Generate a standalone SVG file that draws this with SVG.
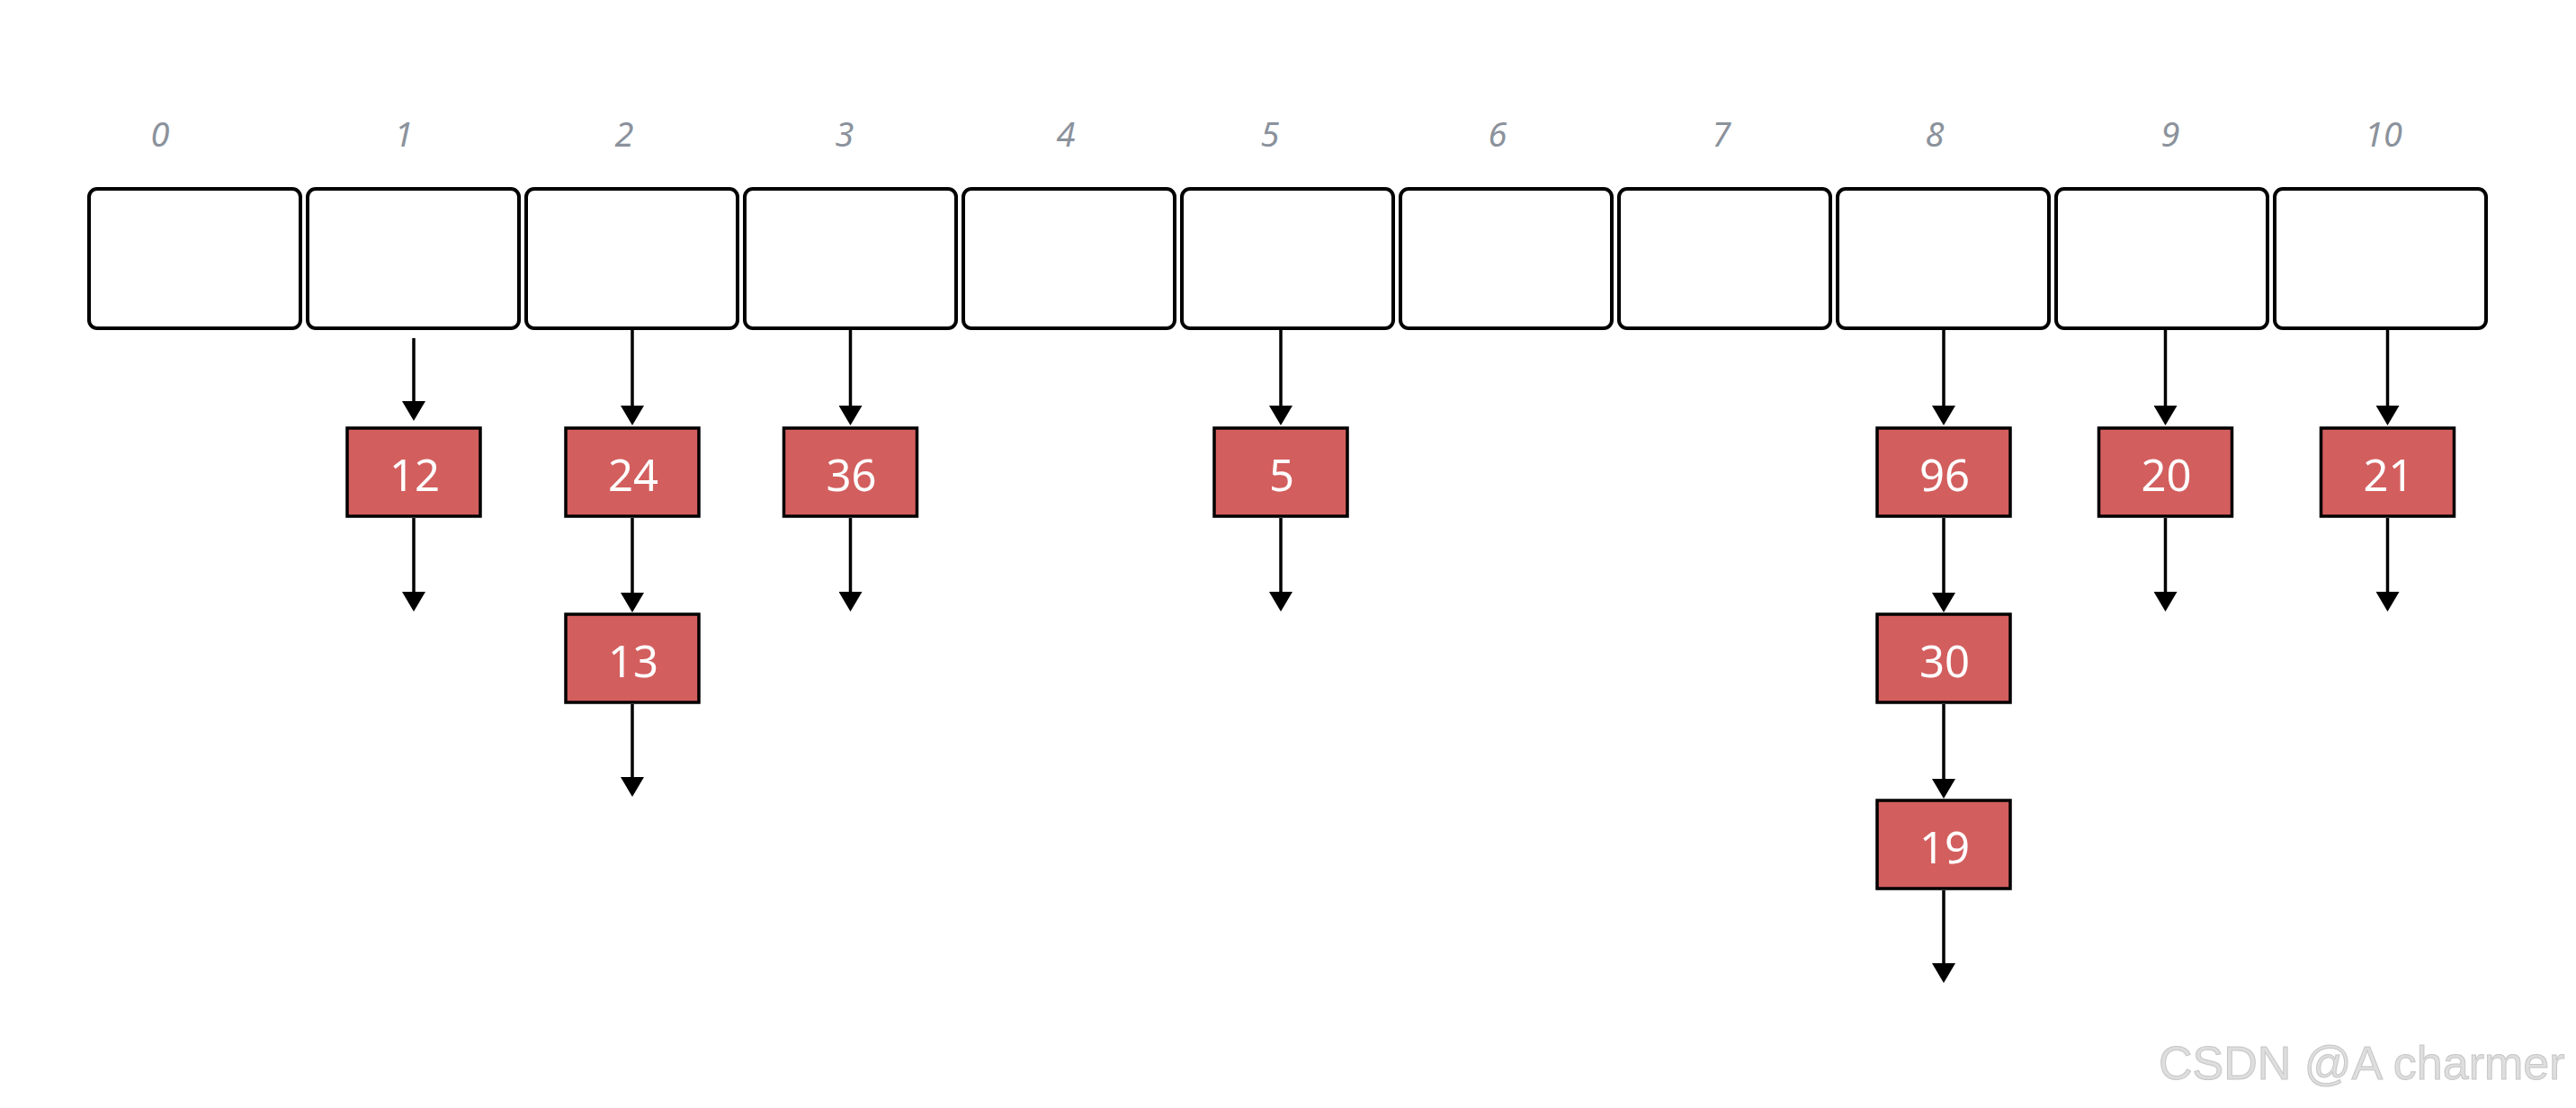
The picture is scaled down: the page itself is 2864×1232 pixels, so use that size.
<svg xmlns="http://www.w3.org/2000/svg" width="2864" height="1232" viewBox="0 0 2864 1232">
  <defs>
    <marker id="ah" viewBox="0 0 22 26" refX="2" refY="13" markerWidth="22" markerHeight="26" markerUnits="userSpaceOnUse" orient="auto">
      <path d="M0,0 L22,13 L0,26 z" fill="#000"/>
    </marker>
    <style>
      .slot { fill: #fff; stroke: #000; stroke-width: 4; }
      .idx { font-family: "Noto Sans", "DejaVu Sans", sans-serif; font-style: italic; font-size: 38px; fill: #8b929c; text-anchor: middle; }
      .node rect { fill: #d35e5e; stroke: #000; stroke-width: 3.5; }
      .node text { font-family: "Noto Sans", "DejaVu Sans", sans-serif; font-size: 49px; fill: #fff; text-anchor: middle; }
      .conn line { stroke: #000; stroke-width: 3.5; marker-end: url(#ah); }
      .wm { font-family: "Liberation Sans", Arial, sans-serif; font-size: 52px; fill: #dedede; stroke: #c6c6c6; stroke-width: 1; }
    </style>
  </defs>
  <rect x="0" y="0" width="2864" height="1232" fill="#fff"/>

  <g id="array">
    <g id="slot0"><rect class="slot" x="99" y="210" width="235" height="155" rx="9"/><text class="idx" x="178" y="163">0</text></g>
    <g id="slot1"><rect class="slot" x="342" y="210" width="235" height="155" rx="9"/><text class="idx" x="449" y="163">1</text></g>
    <g id="slot2"><rect class="slot" x="585" y="210" width="235" height="155" rx="9"/><text class="idx" x="694" y="163">2</text></g>
    <g id="slot3"><rect class="slot" x="828" y="210" width="235" height="155" rx="9"/><text class="idx" x="939" y="163">3</text></g>
    <g id="slot4"><rect class="slot" x="1071" y="210" width="235" height="155" rx="9"/><text class="idx" x="1185" y="163">4</text></g>
    <g id="slot5"><rect class="slot" x="1314" y="210" width="235" height="155" rx="9"/><text class="idx" x="1412" y="163">5</text></g>
    <g id="slot6"><rect class="slot" x="1557" y="210" width="235" height="155" rx="9"/><text class="idx" x="1665" y="163">6</text></g>
    <g id="slot7"><rect class="slot" x="1800" y="210" width="235" height="155" rx="9"/><text class="idx" x="1914" y="163">7</text></g>
    <g id="slot8"><rect class="slot" x="2043" y="210" width="235" height="155" rx="9"/><text class="idx" x="2151" y="163">8</text></g>
    <g id="slot9"><rect class="slot" x="2286" y="210" width="235" height="155" rx="9"/><text class="idx" x="2413" y="163">9</text></g>
    <g id="slot10"><rect class="slot" x="2529" y="210" width="235" height="155" rx="9"/><text class="idx" x="2650" y="163">10</text></g>
  </g>

  <g id="connectors" class="conn">
    <line x1="460" y1="376" x2="460" y2="448"/>
    <line x1="460" y1="576" x2="460" y2="660"/>
    <line x1="703" y1="367" x2="703" y2="453"/>
    <line x1="703" y1="576" x2="703" y2="661"/>
    <line x1="703" y1="783" x2="703" y2="866"/>
    <line x1="945.5" y1="367" x2="945.5" y2="453"/>
    <line x1="945.5" y1="576" x2="945.5" y2="660"/>
    <line x1="1424" y1="367" x2="1424" y2="453"/>
    <line x1="1424" y1="576" x2="1424" y2="660"/>
    <line x1="2161" y1="367" x2="2161" y2="453"/>
    <line x1="2161" y1="576" x2="2161" y2="661"/>
    <line x1="2161" y1="783" x2="2161" y2="868"/>
    <line x1="2161" y1="990" x2="2161" y2="1073"/>
    <line x1="2407.5" y1="367" x2="2407.5" y2="453"/>
    <line x1="2407.5" y1="576" x2="2407.5" y2="660"/>
    <line x1="2654.5" y1="367" x2="2654.5" y2="453"/>
    <line x1="2654.5" y1="576" x2="2654.5" y2="660"/>
  </g>

  <g id="n12" class="node"><rect x="386" y="476" width="148" height="98"/><text x="461" y="546">12</text></g>
  <g id="n24" class="node"><rect x="629" y="476" width="148" height="98"/><text x="704" y="546">24</text></g>
  <g id="n13" class="node"><rect x="629" y="683" width="148" height="98"/><text x="704" y="753">13</text></g>
  <g id="n36" class="node"><rect x="871.5" y="476" width="148" height="98"/><text x="946.5" y="546">36</text></g>
  <g id="n5" class="node"><rect x="1350" y="476" width="148" height="98"/><text x="1425" y="546">5</text></g>
  <g id="n96" class="node"><rect x="2087" y="476" width="148" height="98"/><text x="2162" y="546">96</text></g>
  <g id="n30" class="node"><rect x="2087" y="683" width="148" height="98"/><text x="2162" y="753">30</text></g>
  <g id="n19" class="node"><rect x="2087" y="890" width="148" height="98"/><text x="2162" y="960">19</text></g>
  <g id="n20" class="node"><rect x="2333.5" y="476" width="148" height="98"/><text x="2408.5" y="546">20</text></g>
  <g id="n21" class="node"><rect x="2580.5" y="476" width="148" height="98"/><text x="2655.5" y="546">21</text></g>

  <text class="wm" x="2400" y="1200">CSDN @A charmer</text>
</svg>
